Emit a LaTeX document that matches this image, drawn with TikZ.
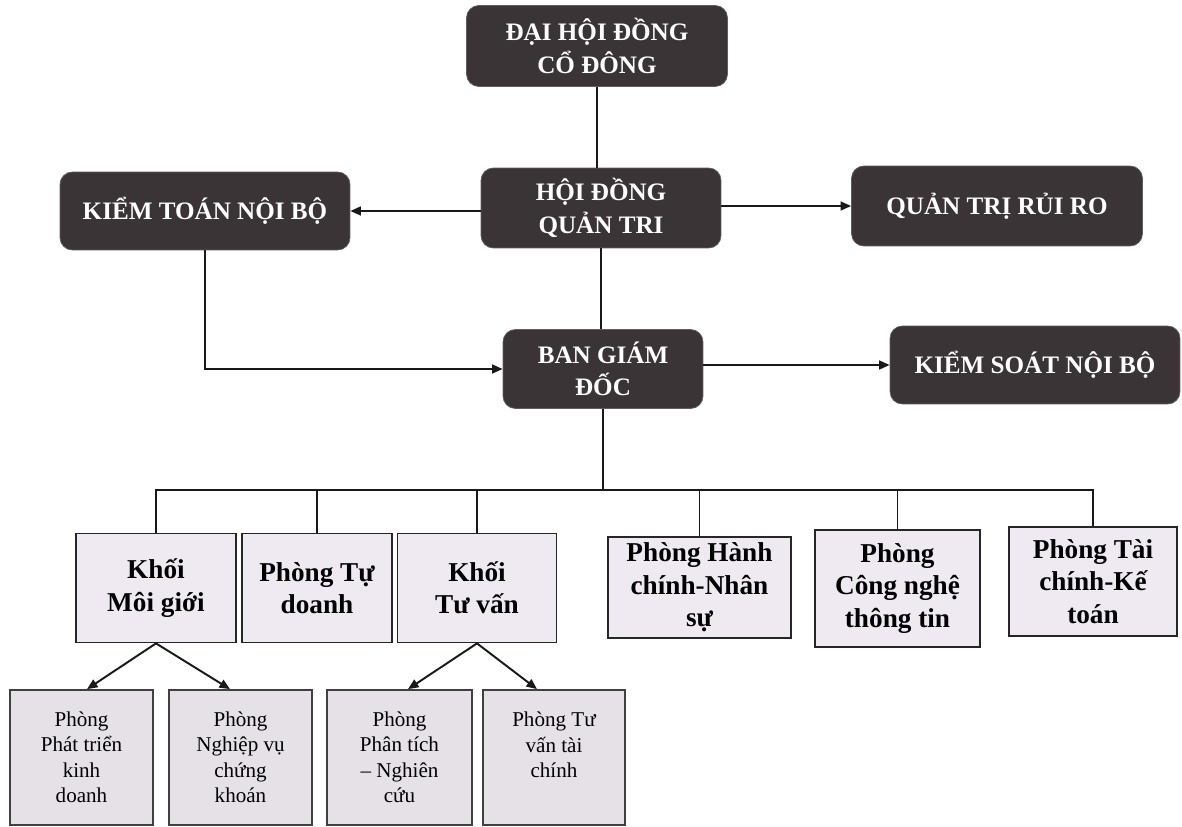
\documentclass[tikz,border=0pt]{standalone}
\usepackage{fontspec}
\setmainfont{Liberation Serif}
\usepackage{xcolor}
\definecolor{Col1}{RGB}{58,52,55}
\definecolor{Col2}{RGB}{239,233,241}
\definecolor{Col3}{RGB}{229,225,231}
\usepackage{tikz}
\usetikzlibrary{arrows.meta}
\tikzstyle{Head}=[rectangle,rounded corners=7pt,fill=Col1,draw=Col1!80,
text=white,inner sep=0pt,align=center,
font=\bfseries\fontsize{14.3}{18.5}\selectfont]
\tikzstyle{Unit}=[rectangle,draw=black!85,fill=Col2,line width=1pt,
inner sep=0pt,align=center,font=\bfseries\fontsize{15.5}{18.5}\selectfont]
\tikzstyle{Sub}=[rectangle,draw=black!75,fill=Col3,line width=1pt,
inner sep=0pt,align=center,font=\fontsize{12}{14.5}\selectfont]
\tikzstyle{Edge}=[draw=black!90,line width=1.1pt]
\tikzstyle{Arrow}=[Edge,-{Triangle[length=6pt,width=5pt]}]

\begin{document}
\begin{tikzpicture}[x=0.02cm,y=-0.02cm]
    \useasboundingbox[fill=white](0,0)rectangle(1182,827);
        \node[Head,minimum width=5.22cm,minimum height=1.62cm](DH)at(597,46)
            {ĐẠI HỘI ĐỒNG\\CỔ ĐÔNG};
        \node[Head,minimum width=4.8cm,minimum height=1.6cm](HQ)at(601,208)
            {HỘI ĐỒNG\\QUẢN TRI};
        \node[Head,minimum width=5.8cm,minimum height=1.56cm](KT)at(205,211)
            {KIỂM TOÁN NỘI BỘ};
        \node[Head,minimum width=5.82cm,minimum height=1.6cm](QR)at(997,206)
            {QUẢN TRỊ RỦI RO};
        \node[Head,minimum width=4.0cm,minimum height=1.58cm](BG)at(603,369)
            {BAN GIÁM\\ĐỐC};
        \node[Head,minimum width=5.8cm,minimum height=1.56cm](KS)at(1035,365)
            {KIỂM SOÁT NỘI BỘ};
        \node[Unit,minimum width=3.2cm,minimum height=2.18cm](KM)at(156,588)
            {Khối\\Môi giới};
        \node[Unit,minimum width=3.0cm,minimum height=2.18cm](PT)at(317,588)
            {Phòng Tự\\doanh};
        \node[Unit,minimum width=3.18cm,minimum height=2.18cm](KV)at(477,588)
            {Khối\\Tư vấn};
        \node[Unit,minimum width=3.66cm,minimum height=2.02cm](HC)at(699.5,587.5)
            {Phòng Hành\\chính-Nhân\\sự};
        \node[Unit,minimum width=3.3cm,minimum height=2.34cm](CN)at(897.5,588.5)
            {Phòng\\Công nghệ\\thông tin};
        \node[Unit,minimum width=3.36cm,minimum height=2.18cm](TC)at(1093,581.5)
            {Phòng Tài\\chính-Kế\\toán};
        \node[Sub,minimum width=2.86cm,minimum height=2.7cm](PP)at(81.5,757.5)
            {Phòng\\Phát triển\\kinh\\doanh};
        \node[Sub,minimum width=2.86cm,minimum height=2.7cm](NV)at(240.5,757.5)
            {Phòng\\Nghiệp vụ\\chứng\\khoán};
        \node[Sub,minimum width=2.9cm,minimum height=2.7cm](PN)at(399.5,757.5)
            {Phòng\\Phân tích\\– Nghiên\\cứu};
        \node[Sub,minimum width=2.84cm,minimum height=2.7cm](TV)at(554,757.5)
            {Phòng Tư\\vấn tài\\chính\\~};
        \coordinate(bus)at(603,490);
        \draw[Edge](DH)--(DH|-HQ.north);
        \draw[Edge](HQ)--(HQ|-BG.north);
        \draw[Arrow](HQ.west|-KT)--(KT);
        \draw[Arrow](HQ.east|-QR)--(QR);
        \draw[Arrow](KT)|-(BG);
        \draw[Arrow](BG.east|-KS)--(KS);
        \draw[Edge](BG)--(bus);
        \foreach \n in {KM,PT,KV,HC,CN,TC}
            \draw[Edge](bus)-|(\n);
        \draw[Arrow](KM.south)--([xshift=0.11cm]PP.north);
        \draw[Arrow](KM.south)--([xshift=-0.21cm]NV.north);
        \draw[Arrow](KV.south)--([xshift=0.17cm]PN.north);
        \draw[Arrow](KV.south)--([xshift=-0.34cm]TV.north);
    \end{tikzpicture}
\end{document}
